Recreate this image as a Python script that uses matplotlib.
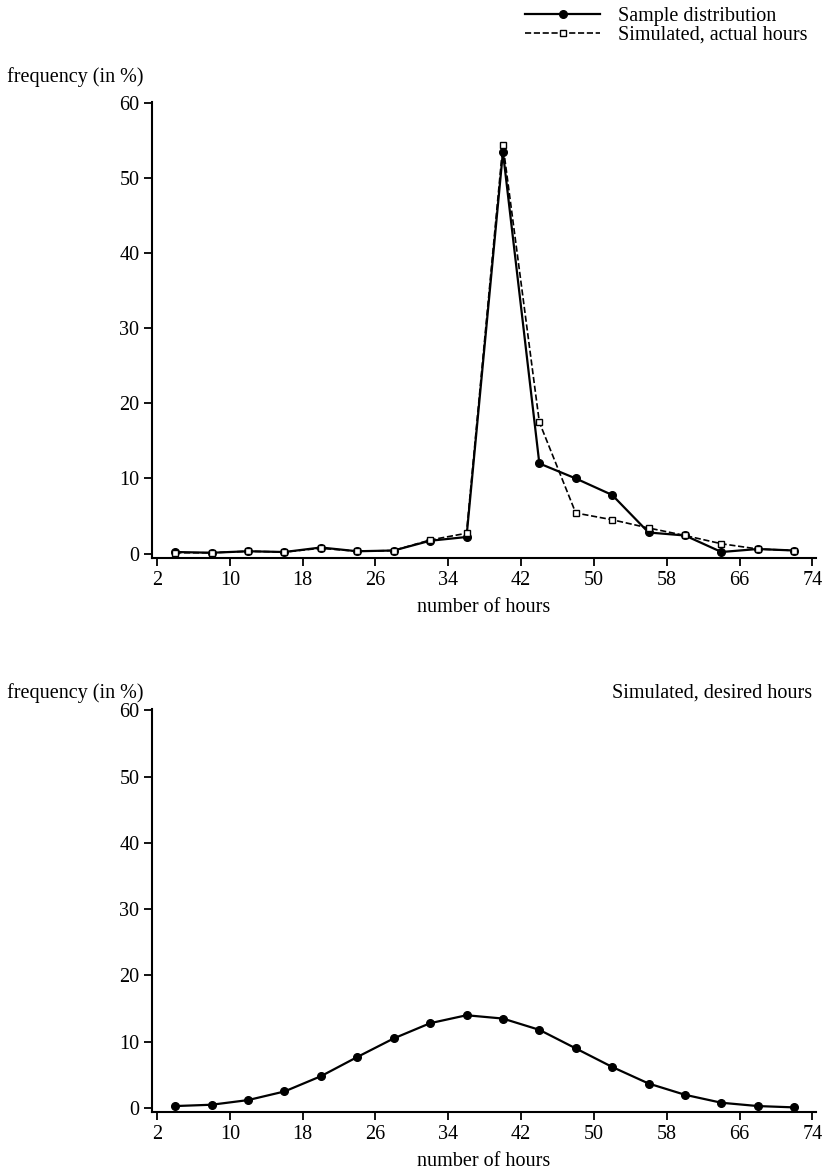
import matplotlib.pyplot as plt
import numpy as np

plt.rcParams['font.family'] = ['Liberation Serif', 'DejaVu Serif']
plt.rcParams['font.size'] = 14.5

# Horas semanales (puntos cada 4 horas)
horas = np.arange(4, 73, 4)

# Distribución muestral (%)
muestra = [0.2, 0.1, 0.3, 0.2, 0.8, 0.3, 0.4, 1.7, 2.2, 53.5,
           12.0, 10.0, 7.8, 2.8, 2.4, 0.2, 0.6, 0.4]

# Horas efectivas simuladas (%)
simulado_efectivo = [0.1, 0.1, 0.3, 0.2, 0.7, 0.3, 0.4, 1.8, 2.7, 54.5,
                     17.5, 5.4, 4.5, 3.4, 2.4, 1.3, 0.6, 0.4]

# Horas deseadas simuladas (%)
simulado_deseado = [0.3, 0.5, 1.2, 2.5, 4.8, 7.7, 10.5, 12.8, 14.0, 13.5,
                    11.8, 9.0, 6.2, 3.7, 2.0, 0.8, 0.3, 0.1]

ticks_x = [2, 10, 18, 26, 34, 42, 50, 58, 66, 74]
ticks_y = [0, 10, 20, 30, 40, 50, 60]

fig = plt.figure(figsize=(8.26, 11.76), dpi=100)
ax1 = fig.add_axes([0.184, 0.5255, 0.804, 0.388])
ax2 = fig.add_axes([0.184, 0.0544, 0.804, 0.3427])


def estilo_ejes(ax):
    ax.set_xlim(1.45, 74.4)
    ax.set_ylim(-0.6, 60.2)
    ax.set_xticks(ticks_x)
    ax.set_yticks(ticks_y)
    ax.spines['top'].set_visible(False)
    ax.spines['right'].set_visible(False)
    ax.spines['left'].set_linewidth(1.5)
    ax.spines['bottom'].set_linewidth(1.5)
    ax.tick_params(direction='out', length=6, width=1.3, pad=3)
    ax.set_xlabel('number of hours', labelpad=6)


# Gráfico superior: muestra frente a horas efectivas simuladas
l1, = ax1.plot(horas, muestra, '-', color='black', lw=1.6,
               marker='o', markersize=5.5, label='Sample distribution')
l2, = ax1.plot(horas, simulado_efectivo, '--', color='black', lw=1.2,
               marker='s', markersize=5, markerfacecolor='white',
               markeredgewidth=1.0, label='Simulated, actual hours')
estilo_ejes(ax1)
fig.text(0.008, 0.9345, 'frequency (in %)', ha='left', va='center')
fig.legend(handles=[l1, l2], loc='upper right', bbox_to_anchor=(0.997, 1.008),
           frameon=False, handlelength=3.7, handletextpad=0.9,
           labelspacing=0.0, borderpad=0.3)

# Gráfico inferior: horas deseadas simuladas
ax2.plot(horas, simulado_deseado, '-', color='black', lw=1.6,
         marker='o', markersize=5.5)
estilo_ejes(ax2)
fig.text(0.008, 0.4107, 'frequency (in %)', ha='left', va='center')
fig.text(0.983, 0.4107, 'Simulated, desired hours', ha='right', va='center')

fig.savefig('out.png', dpi=100)
